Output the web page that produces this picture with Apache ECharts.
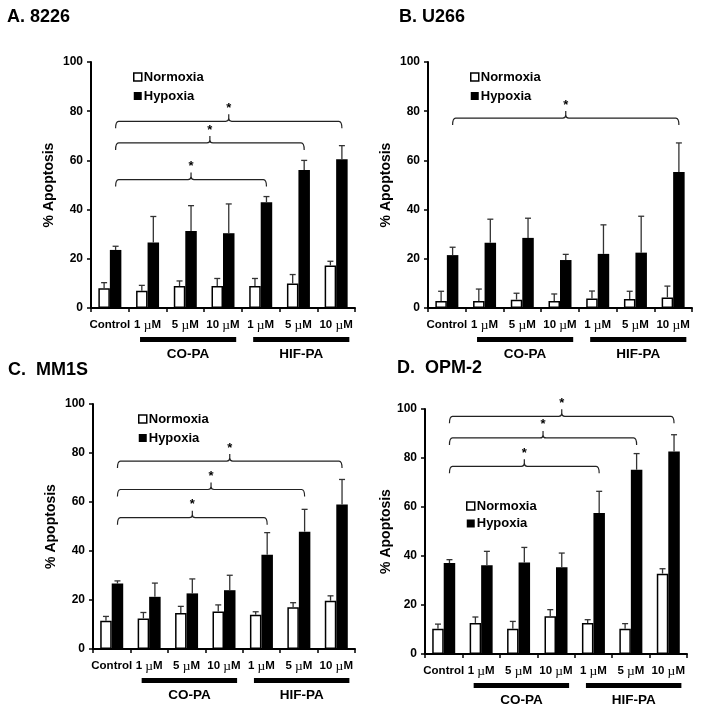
<!DOCTYPE html>
<html><head><meta charset="utf-8">
<script src="https://cdn.jsdelivr.net/npm/echarts@6/dist/echarts.min.js"></script>
<style>html,body{margin:0;padding:0;background:#fff}#c{width:704px;height:712px}</style>
</head><body><div id="c"></div>
<script>
// ---------- data ----------
const categories = ['Control', '1 µM', '5 µM', '10 µM', '1 µM', '5 µM', '10 µM'];
const seriesNames = ['Normoxia', 'Hypoxia'];
const groupLabels = ['CO-PA', 'HIF-PA'];
const groupStart = [1, 4];
const groupEnd = [3, 6];
const panelTitles = ['A. 8226', 'B. U266', 'C.  MM1S', 'D.  OPM-2'];
const yAxisTitle = '% Apoptosis';
const yMin = 0, yMax = 100, yStep = 20;

// A. 8226
const aNormoxia    = [8.0, 7.0, 8.9, 8.9, 8.9, 10.0, 17.3];
const aNormoxiaErr = [2.3, 2.2, 2.1, 3.1, 3.1, 3.6, 1.7];
const aHypoxia     = [23.6, 26.6, 31.3, 30.4, 43.0, 56.1, 60.5];
const aHypoxiaErr  = [1.5, 10.6, 10.3, 11.9, 2.3, 3.9, 5.5];
const aBracketEnd   = [6, 5, 4];
const aBracketLevel = [75.9, 67.1, 52.2];

// B. U266
const bNormoxia    = [2.8, 2.8, 3.4, 2.8, 3.9, 3.7, 4.3];
const bNormoxiaErr = [4.0, 4.9, 2.6, 2.9, 3.0, 3.1, 4.6];
const bHypoxia     = [21.5, 26.5, 28.5, 19.5, 22.0, 22.5, 55.3];
const bHypoxiaErr  = [3.2, 9.6, 8.0, 2.3, 11.8, 14.8, 11.8];
const bBracketEnd   = [6];
const bBracketLevel = [77.2];

// C. MM1S
const cNormoxia    = [11.5, 12.5, 14.7, 15.3, 14.0, 17.0, 19.7];
const cNormoxiaErr = [1.8, 2.4, 2.7, 2.7, 1.2, 1.9, 2.0];
const cHypoxia     = [26.7, 21.3, 22.7, 24.0, 38.5, 47.9, 59.0];
const cHypoxiaErr  = [1.1, 5.6, 5.9, 6.1, 9.0, 9.1, 10.2];
const cBracketEnd   = [6, 5, 4];
const cBracketLevel = [76.7, 65.1, 53.6];

// D. OPM-2
const dNormoxia    = [10.3, 12.7, 10.3, 15.4, 12.7, 10.3, 32.8];
const dNormoxiaErr = [1.9, 2.4, 3.0, 2.7, 1.3, 2.1, 2.0];
const dHypoxia     = [37.1, 36.2, 37.3, 35.4, 57.6, 75.2, 82.7];
const dHypoxiaErr  = [1.4, 5.7, 6.2, 5.8, 8.8, 6.6, 6.8];
const dBracketEnd   = [6, 5, 4];
const dBracketLevel = [97.0, 88.2, 76.6];

// ---------- layout / style ----------
const FONT = 'Liberation Sans, Arial, sans-serif';
const BW = 11.5;
const panels = [
  {norm: aNormoxia, normErr: aNormoxiaErr, hyp: aHypoxia, hypErr: aHypoxiaErr, bEnd: aBracketEnd, bLevel: aBracketLevel},
  {norm: bNormoxia, normErr: bNormoxiaErr, hyp: bHypoxia, hypErr: bHypoxiaErr, bEnd: bBracketEnd, bLevel: bBracketLevel},
  {norm: cNormoxia, normErr: cNormoxiaErr, hyp: cHypoxia, hypErr: cHypoxiaErr, bEnd: cBracketEnd, bLevel: cBracketLevel},
  {norm: dNormoxia, normErr: dNormoxiaErr, hyp: dHypoxia, hypErr: dHypoxiaErr, bEnd: dBracketEnd, bLevel: dBracketLevel}
];
const layout = [
  {grid: {left: 91, top: 62, width: 264, height: 246}, title: {left: 7, top: 8}, legend: {left: 133, top: 70, gap: 5}, nameGap: 35},
  {grid: {left: 428, top: 62, width: 264, height: 246}, title: {left: 399, top: 8}, legend: {left: 470, top: 70, gap: 5}, nameGap: 35},
  {grid: {left: 93, top: 404, width: 262, height: 245}, title: {left: 8, top: 361}, legend: {left: 138, top: 412, gap: 5}, nameGap: 35},
  {grid: {left: 425, top: 409, width: 262, height: 245}, title: {left: 397, top: 359}, legend: {left: 466, top: 499, gap: 3.5}, nameGap: 32}
];

function renderErr(params, api) {
  const i = api.value(0), v = api.value(1), e = api.value(2), s = api.value(3);
  const p0 = api.coord([i, v]);
  const p1 = api.coord([i, v + e]);
  const x = p0[0] + s * BW / 2;
  const st = {stroke: '#333', lineWidth: 1.3};
  return {type: 'group', children: [
    {type: 'line', shape: {x1: x, y1: p0[1], x2: x, y2: p1[1]}, style: st},
    {type: 'line', shape: {x1: x - 3, y1: p1[1], x2: x + 3, y2: p1[1]}, style: st}
  ]};
}
function renderBracket(params, api) {
  const s = api.value(0), e = api.value(1), lv = api.value(2);
  const xs = api.coord([s, lv])[0] + BW / 2;
  const xe = api.coord([e, lv])[0] + BW / 2;
  const y = api.coord([s, lv])[1];
  const xm = (xs + xe) / 2;
  const d = `M${xs},${y + 7} Q${xs},${y} ${xs + 3},${y} L${xm - 3},${y} Q${xm},${y} ${xm},${y - 3} L${xm},${y - 7} ` +
            `M${xm},${y - 3} Q${xm},${y} ${xm + 3},${y} L${xe - 3},${y} Q${xe},${y} ${xe},${y + 7}`;
  return {type: 'group', children: [
    {type: 'path', shape: {pathData: d}, style: {stroke: '#222', lineWidth: 1.2, fill: null}},
    {type: 'text', x: xm, y: y - 13, style: {text: '*', fill: '#000', align: 'center', verticalAlign: 'middle', font: 'bold 13px ' + FONT}}
  ]};
}
function renderGroup(params, api) {
  const s = api.value(0), e = api.value(1);
  const cw = api.size([1, 0])[0];
  const x1 = api.coord([s, 0])[0] - cw * 0.2;
  const x2 = api.coord([e, 0])[0] + cw * 0.35;
  const y0 = api.coord([s, 0])[1];
  return {type: 'group', children: [
    {type: 'rect', shape: {x: x1, y: y0 + 29, width: x2 - x1, height: 5}, style: {fill: '#000'}},
    {type: 'text', x: (x1 + x2) / 2, y: y0 + 46, style: {text: groupLabels[params.dataIndex], fill: '#000', align: 'center', verticalAlign: 'middle', font: 'bold 13.5px ' + FONT}}
  ]};
}

const option = {
  backgroundColor: '#fff',
  animation: false,
  title: [], legend: [], grid: [], xAxis: [], yAxis: [], series: []
};

panels.forEach((pd, p) => {
  const L = layout[p];
  option.grid.push(Object.assign({containLabel: false}, L.grid));
  option.title.push({text: panelTitles[p], left: L.title.left, top: L.title.top, padding: 0,
    textStyle: {fontSize: 18, fontWeight: 'bold', color: '#000', fontFamily: FONT}});
  option.legend.push({
    data: [
      {name: seriesNames[0], itemStyle: {color: '#fff', borderColor: '#000', borderWidth: 1.5}},
      {name: seriesNames[1], itemStyle: {color: '#000'}}
    ],
    orient: 'vertical', left: L.legend.left, top: L.legend.top, padding: 0,
    itemWidth: 8, itemHeight: 8, itemGap: L.legend.gap, icon: 'rect', selectedMode: false,
    textStyle: {fontSize: 13, fontWeight: 'bold', color: '#000', fontFamily: FONT, lineHeight: 14, padding: [0, 0, 0, -3]}
  });
  option.xAxis.push({
    type: 'category', gridIndex: p, data: categories,
    axisLine: {lineStyle: {color: '#000', width: 2}},
    axisTick: {show: true, interval: 0, length: 4, lineStyle: {color: '#000', width: 1.5}},
    axisLabel: {interval: 0, margin: 9, color: '#000', fontSize: 11.5, fontWeight: 'bold', fontFamily: FONT,
      lineHeight: 16, verticalAlign: 'top',
      formatter: v => v.indexOf('µ') >= 0 ? v.replace('µ', '{mu|µ}') : '{t|' + v + '}',
      rich: {
        mu: {fontFamily: 'Liberation Serif, Times New Roman, serif', fontSize: 13.5, fontWeight: 'normal', color: '#000', lineHeight: 16},
        t: {fontFamily: FONT, fontSize: 11.5, fontWeight: 'bold', color: '#000', lineHeight: 16}
      }},
    splitLine: {show: false}
  });
  option.yAxis.push({
    type: 'value', gridIndex: p, min: yMin, max: yMax, interval: yStep,
    name: yAxisTitle, nameLocation: 'middle', nameRotate: 90, nameGap: L.nameGap,
    nameTextStyle: {fontSize: 14, fontWeight: 'bold', color: '#000', fontFamily: FONT},
    axisLine: {show: true, lineStyle: {color: '#000', width: 2}},
    axisTick: {show: true, length: 4, lineStyle: {color: '#000', width: 1.5}},
    axisLabel: {margin: 8, color: '#000', fontSize: 12, fontWeight: 'bold', fontFamily: FONT},
    splitLine: {show: false}
  });
  option.series.push({
    type: 'bar', name: seriesNames[0], xAxisIndex: p, yAxisIndex: p, data: pd.norm,
    barWidth: BW, barGap: '0%', itemStyle: {color: '#fff', borderColor: '#000', borderWidth: 1.5}, z: 2
  });
  option.series.push({
    type: 'bar', name: seriesNames[1], xAxisIndex: p, yAxisIndex: p, data: pd.hyp,
    barWidth: BW, barGap: '0%', itemStyle: {color: '#000'}, z: 2
  });
  const errData = [];
  pd.norm.forEach((v, i) => errData.push([i, v, pd.normErr[i], -1]));
  pd.hyp.forEach((v, i) => errData.push([i, v, pd.hypErr[i], 1]));
  option.series.push({
    type: 'custom', name: 'err' + p, xAxisIndex: p, yAxisIndex: p, data: errData,
    encode: {x: 0, y: 1}, renderItem: renderErr, z: 3, silent: true
  });
  option.series.push({
    type: 'custom', name: 'brk' + p, xAxisIndex: p, yAxisIndex: p, clip: false,
    data: pd.bEnd.map((e, k) => [0, e, pd.bLevel[k]]),
    encode: {x: [0, 1], y: 2}, renderItem: renderBracket, z: 4, silent: true
  });
  option.series.push({
    type: 'custom', name: 'grp' + p, xAxisIndex: p, yAxisIndex: p, clip: false,
    data: groupStart.map((s, k) => [s, groupEnd[k], 0]),
    encode: {x: [0, 1], y: 2}, renderItem: renderGroup, z: 4, silent: true
  });
});

const chart = echarts.init(document.getElementById('c'), null, {renderer: 'canvas'});
chart.setOption(option);
</script>
</body></html>
